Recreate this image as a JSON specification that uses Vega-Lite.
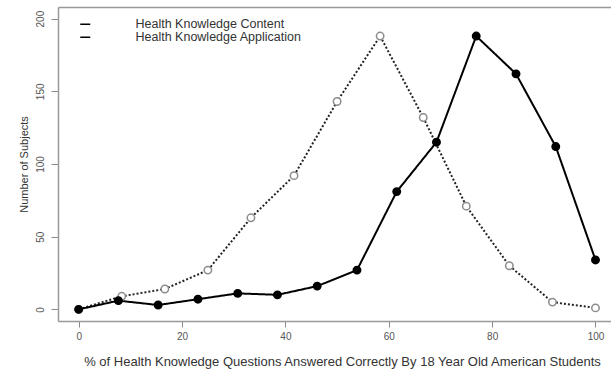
{
  "$schema": "https://vega.github.io/schema/vega-lite/v6.json",
  "width": 553,
  "height": 314,
  "autosize": {"type": "none"},
  "padding": {"left": 58, "top": 7, "right": 0, "bottom": 48},
  "background": "white",
  "config": {
    "view": {"stroke": null},
    "font": "Liberation Sans",
    "axis": {"grid": false},
    "legend": {
      "orient": "none",
      "legendX": 21,
      "legendY": 11,
      "title": null,
      "padding": 0,
      "rowPadding": 0,
      "symbolSize": 100,
      "symbolStrokeWidth": 1.5,
      "labelOffset": 44,
      "labelLimit": 0,
      "labelFontSize": 12.5,
      "labelColor": "#333333",
      "labelFont": "Liberation Sans"
    }
  },
  "data": {
    "values": [
      {"series": "Health Knowledge Content", "pct": 0, "n": 0},
      {"series": "Health Knowledge Content", "pct": 8.33, "n": 9},
      {"series": "Health Knowledge Content", "pct": 16.67, "n": 14},
      {"series": "Health Knowledge Content", "pct": 25, "n": 27},
      {"series": "Health Knowledge Content", "pct": 33.33, "n": 63},
      {"series": "Health Knowledge Content", "pct": 41.67, "n": 92},
      {"series": "Health Knowledge Content", "pct": 50, "n": 143},
      {"series": "Health Knowledge Content", "pct": 58.33, "n": 188},
      {"series": "Health Knowledge Content", "pct": 66.67, "n": 132},
      {"series": "Health Knowledge Content", "pct": 75, "n": 71},
      {"series": "Health Knowledge Content", "pct": 83.33, "n": 30},
      {"series": "Health Knowledge Content", "pct": 91.67, "n": 5},
      {"series": "Health Knowledge Content", "pct": 100, "n": 1},
      {"series": "Health Knowledge Application", "pct": 0, "n": 0},
      {"series": "Health Knowledge Application", "pct": 7.69, "n": 6},
      {"series": "Health Knowledge Application", "pct": 15.38, "n": 3},
      {"series": "Health Knowledge Application", "pct": 23.08, "n": 7},
      {"series": "Health Knowledge Application", "pct": 30.77, "n": 11},
      {"series": "Health Knowledge Application", "pct": 38.46, "n": 10},
      {"series": "Health Knowledge Application", "pct": 46.15, "n": 16},
      {"series": "Health Knowledge Application", "pct": 53.85, "n": 27},
      {"series": "Health Knowledge Application", "pct": 61.54, "n": 81},
      {"series": "Health Knowledge Application", "pct": 69.23, "n": 115},
      {"series": "Health Knowledge Application", "pct": 76.92, "n": 188},
      {"series": "Health Knowledge Application", "pct": 84.62, "n": 162},
      {"series": "Health Knowledge Application", "pct": 92.31, "n": 112},
      {"series": "Health Knowledge Application", "pct": 100, "n": 34}
    ]
  },
  "encoding": {
    "y": {
      "field": "n",
      "type": "quantitative",
      "scale": {"domain": [-8, 208], "nice": false, "zero": false},
      "axis": {
        "orient": "left",
        "values": [0, 50, 100, 150, 200],
        "tickSize": 7,
        "tickColor": "#8a8a8a",
        "tickWidth": 1,
        "domainColor": "#999999",
        "domainWidth": 1.5,
        "labelAngle": -90,
        "labelAlign": "center",
        "labelBaseline": "alphabetic",
        "labelPadding": 8,
        "labelFontSize": 10,
        "labelColor": "#555555",
        "title": "Number of Subjects",
        "titleFontSize": 11,
        "titleFontWeight": "normal",
        "titleColor": "#333333",
        "titleAngle": -90,
        "titleAlign": "center",
        "titleBaseline": "alphabetic",
        "titleX": -31,
        "titleY": 157
      }
    }
  },
  "layer": [
    {
      "mark": {"type": "line", "strokeWidth": 2},
      "encoding": {
        "x": {
          "field": "pct",
          "type": "quantitative",
          "scale": {"domain": [-4, 103], "nice": false, "zero": false},
          "axis": {
            "orient": "bottom",
            "values": [0, 20, 40, 60, 80, 100],
            "tickSize": 6,
            "tickColor": "#8a8a8a",
            "domainColor": "#999999",
            "domainWidth": 1.5,
            "labelPadding": 4,
            "labelFontSize": 10,
            "labelColor": "#555555",
            "title": "% of Health Knowledge Questions Answered Correctly By 18 Year Old American Students",
            "titleFontSize": 13,
            "titleFontWeight": "normal",
            "titleColor": "#333333",
            "titleAlign": "center",
            "titleBaseline": "alphabetic",
            "titleX": 284,
            "titleY": 44
          }
        },
        "detail": {"field": "series", "type": "nominal"},
        "color": {
          "condition": {"test": "datum.series === 'Health Knowledge Content'", "value": "#222222"},
          "value": "#000000"
        },
        "strokeDash": {
          "condition": {"test": "datum.series === 'Health Knowledge Content'", "value": [2, 2]},
          "value": [1, 0]
        },
        "opacity": {
          "field": "series",
          "type": "nominal",
          "scale": {
            "domain": ["Health Knowledge Content", "Health Knowledge Application"],
            "range": [1, 1]
          },
          "legend": {
            "encode": {
              "symbols": {
                "update": {
                  "shape": {"signal": "datum.value === 'Health Knowledge Content' ? 'M -1,0 A 0.8 0.8 0 1 0 0.6,0 A 0.8 0.8 0 1 0 -1,0 Z M 5.8,0 A 0.8 0.8 0 1 0 7.4,0 A 0.8 0.8 0 1 0 5.8,0 Z M 1.9,0 L 2.1,0 M 3.1,0 L 3.3,0 M 4.3,0 L 4.5,0' : 'M -1,0 A 0.8 0.8 0 1 0 0.6,0 A 0.8 0.8 0 1 0 -1,0 Z M 5.8,0 A 0.8 0.8 0 1 0 7.4,0 A 0.8 0.8 0 1 0 5.8,0 Z M 1.2,0 L 4.8,0'"},
                  "fill": {"signal": "datum.value === 'Health Knowledge Content' ? '#ffffff' : '#000000'"},
                  "stroke": {"signal": "datum.value === 'Health Knowledge Content' ? '#8c8c8c' : '#000000'"},
                  "strokeWidth": {"value": 1.5},
                  "strokeDash": {"value": []}
                }
              }
            }
          }
        }
      }
    },
    {
      "mark": {"type": "circle", "size": 55, "strokeWidth": 1.5, "opacity": 1},
      "encoding": {
        "x": {
          "field": "pct",
          "type": "quantitative",
          "scale": {"domain": [-4, 103], "nice": false, "zero": false},
          "axis": {
            "orient": "top",
            "labels": false,
            "ticks": false,
            "domain": true,
            "domainColor": "#999999",
            "domainWidth": 1.5,
            "title": null
          }
        },
        "fill": {
          "condition": {"test": "datum.series === 'Health Knowledge Content'", "value": "#ffffff"},
          "value": "#000000"
        },
        "stroke": {
          "condition": {"test": "datum.series === 'Health Knowledge Content'", "value": "#8c8c8c"},
          "value": "#000000"
        }
      }
    }
  ],
  "resolve": {"axis": {"x": "independent"}}
}
